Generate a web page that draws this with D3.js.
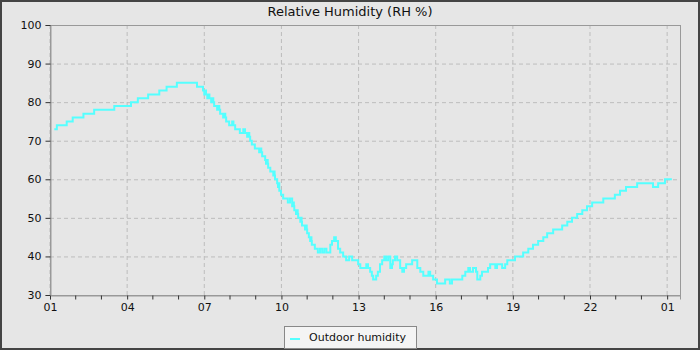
<!DOCTYPE html>
<html><head><meta charset="utf-8">
<script src="https://cdn.jsdelivr.net/npm/d3@7"></script>
<style>html,body{margin:0;padding:0;background:#e6e6e6;}svg{display:block;}</style>
</head><body>
<script>
const title = "Relative Humidity (RH %)";
const seriesName = "Outdoor humidity";
const yTicks = [30, 40, 50, 60, 70, 80, 90, 100];
// times (day offset 0 = first day, 1 = next day) and humidity values (step changes)
const times = [
 "0 01:10","0 01:16","0 01:39","0 01:53","0 02:18","0 02:43","0 03:30","0 04:09","0 04:25","0 04:49",
 "0 05:15","0 05:32","0 05:56","0 06:43","0 06:57","0 07:00","0 07:02","0 07:04","0 07:07","0 07:10",
 "0 07:12","0 07:16","0 07:19","0 07:21","0 07:23","0 07:30","0 07:33","0 07:35","0 07:37","0 07:44",
 "0 07:47","0 07:49","0 07:51","0 07:58","0 08:05","0 08:08","0 08:12","0 08:23","0 08:31","0 08:35",
 "0 08:40","0 08:43","0 08:45","0 08:47","0 08:51","0 08:58","0 09:08","0 09:11","0 09:13","0 09:15",
 "0 09:22","0 09:24","0 09:27","0 09:28","0 09:29","0 09:34","0 09:41","0 09:43","0 09:44","0 09:45",
 "0 09:50","0 09:52","0 09:54","0 09:55","0 09:59","0 10:04","0 10:15","0 10:20","0 10:25","0 10:28",
 "0 10:29","0 10:30","0 10:34","0 10:37","0 10:38","0 10:39","0 10:44","0 10:46","0 10:47","0 10:48",
 "0 10:55","0 10:58","0 10:59","0 11:00","0 11:04","0 11:07","0 11:09","0 11:10","0 11:11","0 11:18",
 "0 11:25","0 11:30","0 11:35","0 11:40","0 11:45","0 11:54","0 11:58","0 12:03","0 12:07","0 12:12",
 "0 12:17","0 12:24","0 12:31","0 12:38","0 12:45","0 12:59","0 13:04","0 13:18","0 13:22","0 13:27",
 "0 13:31","0 13:34","0 13:41","0 13:45","0 13:50","0 13:55","0 14:00","0 14:04","0 14:09","0 14:14",
 "0 14:18","0 14:20","0 14:25","0 14:30","0 14:37","0 14:42","0 14:46","0 14:51","0 15:05","0 15:17",
 "0 15:24","0 15:31","0 15:43","0 15:47","0 15:54","0 16:03","0 16:22","0 16:33","0 16:38","0 17:02",
 "0 17:09","0 17:16","0 17:20","0 17:27","0 17:34","0 17:37","0 17:44","0 17:48","0 18:02","0 18:07",
 "0 18:19","0 18:23","0 18:35","0 18:42","0 18:47","0 19:05","0 19:24","0 19:36","0 19:47","0 19:59",
 "0 20:11","0 20:20","0 20:34","0 20:55","0 21:07","0 21:18","0 21:30","0 21:42","0 21:53","0 22:05",
 "0 22:31","0 22:58","0 23:10","0 23:24","0 23:50","1 00:27","1 00:39","1 00:55","1 01:11"
];
const humidity = [
 73,74,75,76,77,78,79,80,81,82,
 83,84,85,84,83,82,83,82,81,82,
 81,80,81,80,79,78,79,78,77,76,
 77,76,75,74,75,74,73,72,73,72,
 71,72,71,70,69,68,67,68,67,66,
 65,64,65,64,63,62,61,62,61,60,
 59,58,59,57,56,55,54,55,53,54,
 53,52,51,52,51,50,49,50,49,48,
 47,48,47,46,45,44,45,44,43,42,
 41,42,41,42,41,43,44,45,44,42,
 41,40,39,40,39,38,37,38,37,36,
 35,34,35,36,38,39,40,39,40,37,
 38,39,40,39,37,36,37,38,39,37,
 36,35,36,35,34,33,34,33,34,35,
 36,37,36,37,36,34,35,36,37,38,
 37,38,37,38,39,40,41,42,43,44,
 45,46,47,48,49,50,51,52,53,54,
 55,56,57,58,59,58,59,60,60
];
const xTickHours = [1, 4, 7, 10, 13, 16, 19, 22, 25];

const W = 700, H = 350;
const M = {left: 50, right: 20, top: 25, bottom: 55};
function parseT(s) {
  const [d, hm] = s.split(" ");
  const [h, m] = hm.split(":").map(Number);
  return new Date(2024, 0, 1 + (+d), h, m);
}
const data = times.map((t, i) => ({t: parseT(t), v: humidity[i]}));

const svg = d3.select("body").append("svg").attr("width", W).attr("height", H);
svg.append("rect").attr("x", 1).attr("y", 1).attr("width", W - 2).attr("height", H - 2)
  .attr("fill", "#e6e6e6").attr("stroke", "#444").attr("stroke-width", 2);

const x = d3.scaleTime()
  .domain([new Date(2024, 0, 1, 1, 0), new Date(2024, 0, 2, 1, 30)])
  .range([M.left, W - M.right]);
const y = d3.scaleLinear().domain([30, 100]).range([H - M.bottom, M.top]);

const fam = "'DejaVu Sans', sans-serif";
svg.append("text").attr("x", 350).attr("y", 16).attr("text-anchor", "middle")
  .attr("font-family", fam).attr("font-size", 13).attr("fill", "#111").text(title);

// grid
const g = svg.append("g");
const majorDates = xTickHours.map(h => new Date(2024, 0, 1, h, 0));
g.selectAll("line.vg").data(majorDates).join("line")
  .attr("x1", d => x(d)).attr("x2", d => x(d)).attr("y1", y(100)).attr("y2", y(30))
  .attr("stroke", "#bdbdbd").attr("stroke-dasharray", "4,3");
g.selectAll("line.hg").data(yTicks).join("line")
  .attr("x1", x.range()[0]).attr("x2", x.range()[1]).attr("y1", d => y(d) + 0.5).attr("y2", d => y(d) + 0.5)
  .attr("stroke", "#bdbdbd").attr("stroke-dasharray", "4,3");

// frame
svg.append("rect").attr("x", M.left + 0.5).attr("y", M.top + 0.5)
  .attr("width", W - M.right - M.left).attr("height", H - M.bottom - M.top)
  .attr("fill", "none").attr("stroke", "#999");

// line
const line = d3.line().x(d => x(d.t)).y(d => y(d.v)).curve(d3.curveStepAfter);
svg.append("path").datum(data).attr("d", line).attr("fill", "none")
  .attr("stroke", "#55ffff").attr("stroke-width", 2);

// axes
const xAxis = d3.axisBottom(x).tickValues(majorDates).tickFormat(d3.timeFormat("%H")).tickSize(4).tickPadding(4);
const xa = svg.append("g").attr("transform", `translate(0,${H - M.bottom + 0.5})`).call(xAxis);
const minor = d3.range(1, 26).filter(h => !xTickHours.includes(h)).map(h => new Date(2024, 0, 1, h, 0));
xa.selectAll("line.minor").data(minor).join("line").attr("class", "minor")
  .attr("x1", d => x(d)).attr("x2", d => x(d)).attr("y1", 0).attr("y2", 4).attr("stroke", "#333");
const yAxis = d3.axisLeft(y).tickValues(yTicks).tickSize(5).tickPadding(4);
const ya = svg.append("g").attr("transform", `translate(${M.left + 0.5},0)`).call(yAxis);
[xa, ya].forEach(a => {
  a.select(".domain").attr("stroke", "#999");
  a.selectAll(".tick line").attr("stroke", "#333");
  a.selectAll("text").attr("font-family", fam).attr("font-size", 11).attr("fill", "#111");
});

// legend
const lg = svg.append("g");
lg.append("rect").attr("x", 284.5).attr("y", 326.5).attr("width", 132).attr("height", 22)
  .attr("fill", "#f4f4f4").attr("stroke", "#888");
lg.append("line").attr("x1", 290).attr("x2", 300).attr("y1", 339).attr("y2", 339)
  .attr("stroke", "#55ffff").attr("stroke-width", 2);
lg.append("text").attr("x", 309).attr("y", 341).attr("font-family", fam).attr("font-size", 11)
  .attr("fill", "#111").text(seriesName);
</script>
</body></html>
